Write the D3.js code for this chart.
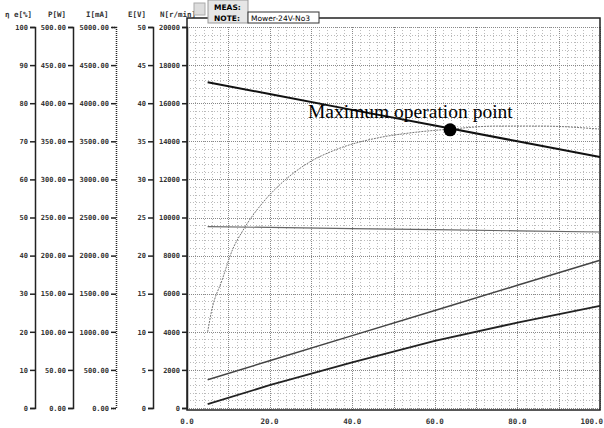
<!DOCTYPE html>
<html>
<head>
<meta charset="utf-8">
<script src="https://cdn.jsdelivr.net/npm/d3@7"></script>
<style>
  body { margin: 0; background: #fff; }
  svg { display: block; }
  .ax text { font-family: "DejaVu Sans Mono", monospace; font-size: 7px; font-weight: bold; fill: #333; }
</style>
</head>
<body>
<div id="chart"></div>
<script>
// x values (load, 0-100) where samples were read
const xs = [5, 20, 40, 60, 80, 100];
// speed N [r/min]
const speed = [17100, 16480, 15650, 14830, 14000, 13180];
// voltage E [V]
const voltage = [23.8, 23.7, 23.55, 23.4, 23.25, 23.1];
// current I [mA]
const current = [370, 620, 950, 1280, 1610, 1940];
// output power P [W]
const power = [5, 30, 60, 88, 112, 134];
// efficiency curve has its own sample points
const effX = [5, 6, 8.5, 11, 13.6, 18.9, 23.7, 29.3, 35.8, 46.2, 54, 63.7, 75, 85.5, 100];
const effVal = [20, 25.7, 33.6, 41.5, 46.7, 54.6, 59.8, 64.3, 67.7, 70.9, 72.2, 73.2, 74, 74, 73.2];

const xTicks = [0, 20, 40, 60, 80, 100];
const maxPoint = { x: 63.7, n: 14600, label: "Maximum operation point" };

const width = 604, height = 428;
const frame = { left: 187, right: 600, top: 18, bottom: 410 };
const yTop = 27, yBottom = 408;

const svg = d3.select("#chart").append("svg")
  .attr("width", width)
  .attr("height", height);

const x = d3.scaleLinear().domain([0, 100]).range([frame.left, frame.right]);
const yN = d3.scaleLinear().domain([0, 20000]).range([yBottom, yTop]);
const yEff = d3.scaleLinear().domain([0, 100]).range([yBottom, yTop]);
const yP = d3.scaleLinear().domain([0, 500]).range([yBottom, yTop]);
const yI = d3.scaleLinear().domain([0, 5000]).range([yBottom, yTop]);
const yE = d3.scaleLinear().domain([0, 50]).range([yBottom, yTop]);

// grid
const grid = svg.append("g");
grid.selectAll(".vminor").data(d3.range(0, 101, 2)).join("line")
  .attr("x1", d => Math.round(x(d)) + 0.5).attr("x2", d => Math.round(x(d)) + 0.5)
  .attr("y1", yTop).attr("y2", frame.bottom)
  .attr("stroke", d => d % 10 === 0 ? "#888" : "#bbb")
  .attr("stroke-width", 1)
  .attr("stroke-dasharray", d => d % 10 === 0 ? "1,1" : "1,2");
grid.selectAll(".hminor").data(d3.range(0, 20001, 400)).join("line")
  .attr("x1", frame.left).attr("x2", frame.right)
  .attr("y1", d => Math.round(yN(d)) + 0.5).attr("y2", d => Math.round(yN(d)) + 0.5)
  .attr("stroke", d => d % 2000 === 0 ? "#888" : "#bbb")
  .attr("stroke-width", 1)
  .attr("stroke-dasharray", d => d % 2000 === 0 ? "1,1" : "1,2");

// frame
svg.append("rect")
  .attr("x", frame.left).attr("y", frame.top)
  .attr("width", frame.right - frame.left).attr("height", frame.bottom - frame.top)
  .attr("fill", "none").attr("stroke", "#222").attr("stroke-width", 1.5);

// left axes
const axes = [
  { scale: yEff, pos: 35, step: 10, fmt: d3.format("d"), title: "η e[%]", tx: 5, dash: null },
  { scale: yP, pos: 73, step: 50, fmt: d3.format(".2f"), title: "P[W]", tx: 48, dash: null },
  { scale: yI, pos: 116, step: 500, fmt: d3.format(".2f"), title: "I[mA]", tx: 86, dash: "1,1" },
  { scale: yE, pos: 153, step: 5, fmt: d3.format("d"), title: "E[V]", tx: 128, dash: null },
  { scale: yN, pos: frame.left, step: 2000, fmt: d3.format("d"), title: "N[r/min]", tx: 160, dash: null }
];

axes.forEach(a => {
  const dom = a.scale.domain();
  const g = svg.append("g").attr("class", "ax")
    .attr("transform", `translate(${a.pos},0)`)
    .call(d3.axisLeft(a.scale)
      .tickValues(d3.range(dom[0], dom[1] + a.step / 2, a.step))
      .tickFormat(a.fmt)
      .tickSize(5).tickPadding(2));
  g.select(".domain").attr("stroke", "#222").attr("stroke-width", 1.5)
    .attr("stroke-dasharray", a.dash);
  g.selectAll(".tick line").attr("stroke", "#222").attr("stroke-width", 1.5);
  svg.append("text")
    .attr("x", a.tx).attr("y", 17)
    .style("font-family", "DejaVu Sans Mono").style("font-size", "7.5px")
    .style("font-weight", "bold").attr("fill", "#333")
    .text(a.title);
});

// bottom labels
svg.append("g").selectAll("text").data(xTicks).join("text")
  .attr("x", d => d === 100 ? width - 1 : x(d)).attr("y", 424)
  .attr("text-anchor", d => d === 100 ? "end" : "middle")
  .style("font-family", "DejaVu Sans Mono").style("font-size", "7.5px")
  .style("font-weight", "bold").attr("fill", "#333")
  .text(d => d3.format(".1f")(d));

// header note box
const note = svg.append("g")
  .style("font-family", "DejaVu Sans").style("font-size", "7.5px");
note.append("rect").attr("x", 208).attr("y", 0).attr("width", 40).attr("height", 23)
  .attr("fill", "#e6e6e6").attr("stroke", "#999");
note.append("rect").attr("x", 194).attr("y", 3).attr("width", 11).attr("height", 12)
  .attr("fill", "#ddd").attr("stroke", "#aaa");
note.append("text").attr("x", 214).attr("y", 10).style("font-weight", "bold").text("MEAS:");
note.append("text").attr("x", 214).attr("y", 21).style("font-weight", "bold").text("NOTE:");
note.append("rect").attr("x", 248).attr("y", 12).attr("width", 71).attr("height", 11)
  .attr("fill", "#fff").attr("stroke", "#333");
note.append("text").attr("x", 251).attr("y", 21).text("Mower-24V-No3");

// curves
const mk = (ys, scale) => d3.line().x((d, i) => x(xs[i])).y(d => scale(d))(ys);

svg.append("path").attr("d", mk(voltage, yE))
  .attr("fill", "none").attr("stroke", "#666").attr("stroke-width", 1.2);
svg.append("path").attr("d", mk(current, yI))
  .attr("fill", "none").attr("stroke", "#444").attr("stroke-width", 1.5);
svg.append("path").attr("d", mk(power, yP))
  .attr("fill", "none").attr("stroke", "#222").attr("stroke-width", 1.8);

const effLine = d3.line().curve(d3.curveMonotoneX)
  .x((d, i) => x(effX[i])).y(d => yEff(d));
svg.append("path").attr("d", effLine(effVal))
  .attr("fill", "none").attr("stroke", "#777").attr("stroke-width", 1)
  .attr("stroke-dasharray", "2,1");

svg.append("path").attr("d", mk(speed, yN))
  .attr("fill", "none").attr("stroke", "#111").attr("stroke-width", 2);

// maximum operation point
svg.append("circle")
  .attr("cx", x(maxPoint.x)).attr("cy", yN(maxPoint.n))
  .attr("r", 6.5).attr("fill", "#000");
svg.append("text")
  .attr("x", 308).attr("y", 118)
  .style("font-family", "Liberation Serif, serif").style("font-size", "19.5px")
  .attr("fill", "#000")
  .text(maxPoint.label);
</script>
</body>
</html>
